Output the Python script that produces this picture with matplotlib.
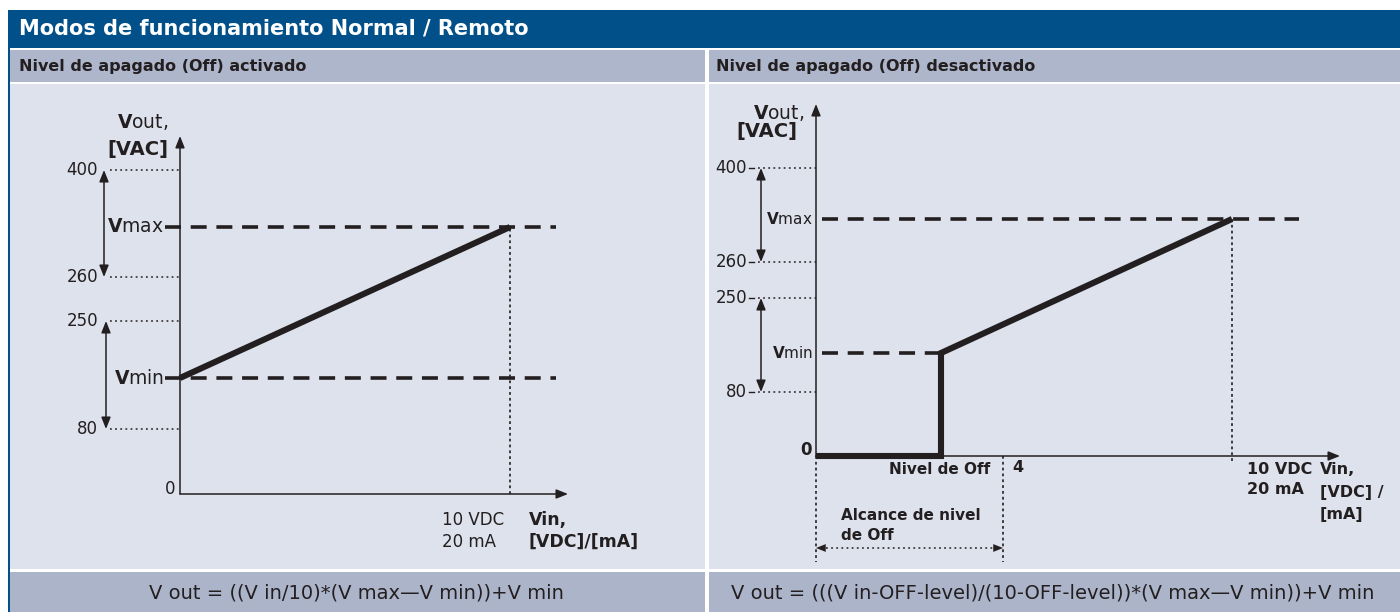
import numpy as np
import matplotlib
matplotlib.use('Agg')
import matplotlib.pyplot as plt
from matplotlib.patches import Rectangle

# ---------------- data ----------------
title = 'Modos de funcionamiento Normal / Remoto'
sub_left = 'Nivel de apagado (Off) activado'
sub_right = 'Nivel de apagado (Off) desactivado'
formula_left = 'V out = ((V in/10)*(V max\u2014V min))+V min'
formula_right = 'V out = (((V in-OFF-level)/(10-OFF-level))*(V max\u2014V min))+V min'

range_ticks = [400, 260, 250, 80]            # dotted reference levels [VAC]
range_labels = ['400', '260', '250', '80']
vmin_level = 160                             # nominal Vmin (schematic)
vmax_level = 330                             # nominal Vmax (schematic)
vin_full = 10                                # 10 VDC / 20 mA
off_level = 3                                # nominal OFF level (schematic)
off_range_end = 4                            # end of OFF-level range

vin_left = [0, vin_full]
vout_left = [vmin_level, vmax_level]
vin_right = [0, off_level, off_level, vin_full]
vout_right = [0, 0, vmin_level, vmax_level]

# ---------------- style ----------------
plt.rcParams['font.family'] = ['DejaVu Sans']
plt.rcParams['mathtext.fontset'] = 'dejavusans'
plt.rcParams['lines.scale_dashes'] = False

TITLE_BLUE = '#02508a'
SUB_GRAY = '#aeb6cb'
PANEL = '#dee2ed'
FORM_GRAY = '#acb4c9'
INK = '#231f20'

W, H = 1400, 612
fig = plt.figure(figsize=(14, 6.12), dpi=100)
fig.patch.set_facecolor('white')

bg = fig.add_axes([0, 0, 1, 1])
bg.set_xlim(0, W)
bg.set_ylim(H, 0)
bg.axis('off')


def rect(x0, y0, x1, y1, c):
    bg.add_patch(Rectangle((x0, y0), x1 - x0, y1 - y0, facecolor=c, lw=0))


rect(8, 10, W, 48, TITLE_BLUE)
rect(8, 10, 10, H, TITLE_BLUE)
for a, b in [(10, 705), (709, W)]:
    rect(a, 50, b, 82, SUB_GRAY)
    rect(a, 84, b, 569, PANEL)
    rect(a, 572, b, H, FORM_GRAY)

bg.text(19, 29, title, color='white', fontsize=15, fontweight='bold', va='center')
bg.text(19, 66, sub_left, color=INK, fontsize=11.5, fontweight='bold', va='center')
bg.text(716, 66, sub_right, color=INK, fontsize=11.5, fontweight='bold', va='center')
bg.text(356, 593, formula_left, color=INK, fontsize=14, ha='center', va='center')
bg.text(1053, 593, formula_right, color=INK, fontsize=14, ha='center', va='center')


# schematic (piecewise) scales
def piecewise(vals, pos):
    vals = np.asarray(vals, float)
    pos = np.asarray(pos, float)
    return (lambda v: np.interp(v, vals, pos)), (lambda p: np.interp(p, pos, vals))


knots_v = [-1000, 0, 80, vmin_level, 250, 260, vmax_level, 400, 1400]
fL, iL = piecewise(knots_v, [-800, 0, 65, 116, 173, 217, 267, 324, 1074])
fR, iR = piecewise(knots_v, [-800, 0, 64, 103, 158, 194, 237, 288, 959])
fRx, iRx = piecewise([-100, 0, off_level, off_range_end, vin_full, 100],
                     [-4160, 0, 125, 187, 416, 4160])

AXL_X0, AXL_Y0 = 180, 494
AXR_X0, AXR_Y0 = 816, 456


def XL(px):
    return (px - AXL_X0) / 33.0


def YL(py):
    return float(iL(AXL_Y0 - py))


def XR(px):
    return float(iRx(px - AXR_X0))


def YR(py):
    return float(iR(AXR_Y0 - py))


AP1 = dict(arrowstyle='-|>,head_length=0.7,head_width=0.28', color=INK, lw=1.1,
           shrinkA=0, shrinkB=0, mutation_scale=10)
AP2 = dict(arrowstyle='<|-|>,head_length=0.7,head_width=0.28', color=INK, lw=1.1,
           shrinkA=0, shrinkB=0, mutation_scale=10)
DOT = dict(color=INK, lw=1.1, dashes=(1.3, 2.4), clip_on=False)
DASH = dict(color=INK, lw=2.6, dashes=(11.5, 7), clip_on=False, solid_capstyle='butt')
DOTV = dict(color=INK, lw=1.2, dashes=(2, 2.2), clip_on=False)

# ---------------- left chart ----------------
axL = fig.add_axes([AXL_X0 / W, (H - AXL_Y0) / H, 330 / W, 324 / H])
axL.set_yscale('function', functions=(fL, iL))
axL.set_facecolor('none')
axL.axis('off')

for v in range_ticks:
    axL.plot([XL(110), 0], [v, v], **DOT)
for v, lab in zip(range_ticks, range_labels):
    axL.text(XL(98), v, lab, ha='right', va='center', fontsize=12, color=INK)
axL.text(XL(175), YL(489), '0', ha='right', va='center', fontsize=12, color=INK)

axL.annotate('', xy=(XL(104), 400), xytext=(XL(104), 260), arrowprops=AP2, annotation_clip=False)
axL.annotate('', xy=(XL(106), 250), xytext=(XL(106), 80), arrowprops=AP2, annotation_clip=False)

axL.plot([XL(165), XL(556)], [vmax_level] * 2, **DASH)
axL.plot([XL(165), XL(556)], [vmin_level] * 2, **DASH)
axL.text(XL(164), vmax_level, r'$\mathbf{V}$max', ha='right', va='center', fontsize=13.5, color=INK)
axL.text(XL(164), vmin_level, r'$\mathbf{V}$min', ha='right', va='center', fontsize=13.5, color=INK)

axL.plot([vin_full, vin_full], [0, vmax_level], **DOTV)
axL.plot(vin_left, vout_left, color=INK, lw=4.4, solid_capstyle='butt', clip_on=False, zorder=5)

axL.annotate('', xy=(0, YL(136)), xytext=(0, 0), arrowprops=AP1, annotation_clip=False)
axL.annotate('', xy=(XL(568), 0), xytext=(0, 0), arrowprops=AP1, annotation_clip=False)
axL.set_xlim(0, 10)
axL.set_ylim(0, 400)

bg.text(168, 122, r'$\mathbf{V}$out,', ha='right', va='center', fontsize=13.5, color=INK)
bg.text(168, 150, '[VAC]', ha='right', va='center', fontsize=14, fontweight='bold', color=INK)
bg.text(442, 520, '10 VDC', ha='left', va='center', fontsize=12, color=INK)
bg.text(442, 542, '20 mA', ha='left', va='center', fontsize=12, color=INK)
bg.text(529, 520, 'Vin,', ha='left', va='center', fontsize=12.5, fontweight='bold', color=INK)
bg.text(529, 542, '[VDC]/[mA]', ha='left', va='center', fontsize=12.5, fontweight='bold', color=INK)

# ---------------- right chart ----------------
axR = fig.add_axes([AXR_X0 / W, (H - AXR_Y0) / H, 416 / W, 288 / H])
axR.set_xscale('function', functions=(fRx, iRx))
axR.set_yscale('function', functions=(fR, iR))
axR.set_facecolor('none')
axR.axis('off')

for v in range_ticks:
    axR.plot([XR(749), XR(754)], [v, v], color=INK, lw=1.0, clip_on=False)
    axR.plot([XR(758), 0], [v, v], **DOT)
for v, lab in zip(range_ticks, range_labels):
    axR.text(XR(747), v, lab, ha='right', va='center', fontsize=12, color=INK)
axR.text(XR(812), YR(450), '0', ha='right', va='center', fontsize=12, fontweight='bold', color=INK)

axR.annotate('', xy=(XR(761), 400), xytext=(XR(761), 260), arrowprops=AP2, annotation_clip=False)
axR.annotate('', xy=(XR(761), 250), xytext=(XR(761), 80), arrowprops=AP2, annotation_clip=False)

axR.plot([XR(822), XR(1299)], [vmax_level] * 2, **DASH)
axR.plot([XR(822), off_level], [vmin_level] * 2, **DASH)
axR.text(XR(813), vmax_level, r'$\mathbf{V}$max', ha='right', va='center', fontsize=11, color=INK)
axR.text(XR(813), vmin_level, r'$\mathbf{V}$min', ha='right', va='center', fontsize=11, color=INK)

axR.plot([vin_full, vin_full], [vmax_level, YR(464)], **DOTV)
axR.plot([0, 0], [0, YR(562)], **DOTV)
axR.plot([off_range_end, off_range_end], [0, YR(562)], **DOTV)

y_arr = YR(548)
axR.plot([XR(826), XR(993)], [y_arr, y_arr], **DOT)
axR.annotate('', xy=(0, y_arr), xytext=(XR(829), y_arr),
             arrowprops=dict(AP1, lw=0.01), annotation_clip=False)
axR.annotate('', xy=(off_range_end, y_arr), xytext=(XR(990), y_arr),
             arrowprops=dict(AP1, lw=0.01), annotation_clip=False)

axR.plot(vin_right, vout_right, color=INK, lw=4.4, solid_capstyle='butt',
         solid_joinstyle='miter', clip_on=False, zorder=5)

axR.annotate('', xy=(0, YR(104)), xytext=(0, 0), arrowprops=AP1, annotation_clip=False)
axR.annotate('', xy=(XR(1340), 0), xytext=(0, 0), arrowprops=AP1, annotation_clip=False)
axR.set_xlim(0, 10)
axR.set_ylim(0, 400)

bg.text(804, 113, r'$\mathbf{V}$out,', ha='right', va='center', fontsize=13.5, color=INK)
bg.text(797, 132, '[VAC]', ha='right', va='center', fontsize=14, fontweight='bold', color=INK)
bg.text(990, 470, 'Nivel de Off', ha='right', va='center', fontsize=11, fontweight='bold', color=INK)
bg.text(1012, 468, '4', ha='left', va='center', fontsize=11.5, fontweight='bold', color=INK)
bg.text(841, 515, 'Alcance de nivel', ha='left', va='center', fontsize=11, fontweight='bold', color=INK)
bg.text(841, 536, 'de Off', ha='left', va='center', fontsize=11, fontweight='bold', color=INK)
bg.text(1247, 469, '10 VDC', ha='left', va='center', fontsize=11.5, fontweight='bold', color=INK)
bg.text(1247, 490, '20 mA', ha='left', va='center', fontsize=11.5, fontweight='bold', color=INK)
bg.text(1320, 469, 'Vin,', ha='left', va='center', fontsize=11.5, fontweight='bold', color=INK)
bg.text(1320, 492, '[VDC] /', ha='left', va='center', fontsize=11.5, fontweight='bold', color=INK)
bg.text(1320, 514, '[mA]', ha='left', va='center', fontsize=11.5, fontweight='bold', color=INK)

fig.savefig('out.png', dpi=100)
